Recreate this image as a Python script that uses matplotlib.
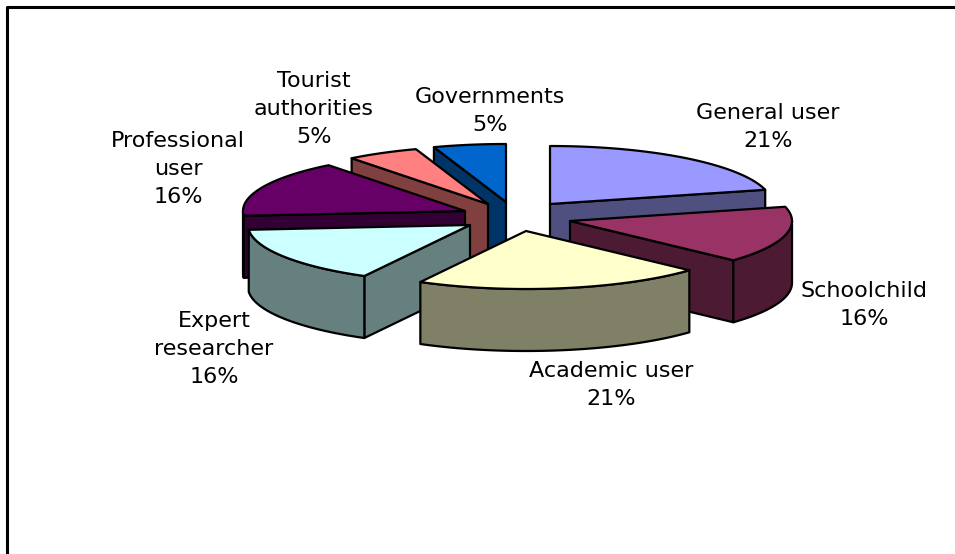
import numpy as np
import matplotlib
matplotlib.use('Agg')
import matplotlib.pyplot as plt
from matplotlib.patches import Polygon

# slices, clockwise from 12 o'clock
labels=['General user','Schoolchild','Academic user','Expert\nresearcher',
        'Professional\nuser','Tourist\nauthorities','Governments']
counts=[4,3,4,3,3,1,1]
percents=['21%','16%','21%','16%','16%','5%','5%']
top_colors=['#9999FF','#993366','#FFFFCC','#CCFFFF','#660066','#FF8080','#0066CC']
side_colors=['#505080','#4D1A33','#808066','#668080','#330033','#804040','#003366']

# where each exploded slice has its point, in pixels
apex_x=[550,570,526,470,465,488,506]
apex_y=[204,221,231,225,211,204,202]
label_x=[768,864,611,214,178,314,490]
label_y=[127,305,385,349,169,109,111]
# drawing order, back to front
order=[6,5,0,4,3,1,2]

rx=222
ry=58
depth=62

fig=plt.figure(figsize=(9.55,5.54),dpi=100)
ax=fig.add_axes([0,0,1,1])
ax.set_xlim(0,955)
ax.set_ylim(554,0)
ax.axis('off')

# border, only top and left are in the picture
ax.plot([7,7,955],[554,7,7],color='black',lw=2.2,solid_capstyle='butt')

edges=np.concatenate([[0],np.cumsum(counts)])/np.sum(counts)*2*np.pi

def rim(i,a):
    return apex_x[i]+rx*np.sin(a),apex_y[i]-ry*np.cos(a)

def wall(i,pts,color,z):
    pts=np.array(pts)
    low=pts[::-1]+[0,depth]
    ax.add_patch(Polygon(np.vstack([pts,low]),closed=True,fc=color,ec='black',lw=1.6,joinstyle='round',zorder=z))

for n,i in enumerate(order):
    a0,a1=edges[i],edges[i+1]
    z=10+n*5
    apex=(apex_x[i],apex_y[i])
    # radial walls only where they face the viewer
    if np.sin(a0)<-1e-6:
        wall(i,[apex,rim(i,a0)],side_colors[i],z)
    if np.sin(a1)>1e-6:
        wall(i,[apex,rim(i,a1)],side_colors[i],z)
    # outer wall, only the part turned to the viewer
    lo=max(a0,np.pi/2)
    hi=min(a1,3*np.pi/2)
    if hi>lo:
        aa=np.linspace(lo,hi,60)
        wall(i,[rim(i,a) for a in aa],side_colors[i],z+1)
    # top face
    aa=np.linspace(a0,a1,80)
    ax.add_patch(Polygon([apex]+[rim(i,a) for a in aa],closed=True,fc=top_colors[i],ec='black',lw=1.6,joinstyle='round',zorder=z+3))

for i in range(len(labels)):
    ax.text(label_x[i],label_y[i],labels[i]+'\n'+percents[i],ha='center',va='center',
            fontsize=16,family='DejaVu Sans',color='black',linespacing=1.47,zorder=60)

fig.savefig('out.png',dpi=100)
